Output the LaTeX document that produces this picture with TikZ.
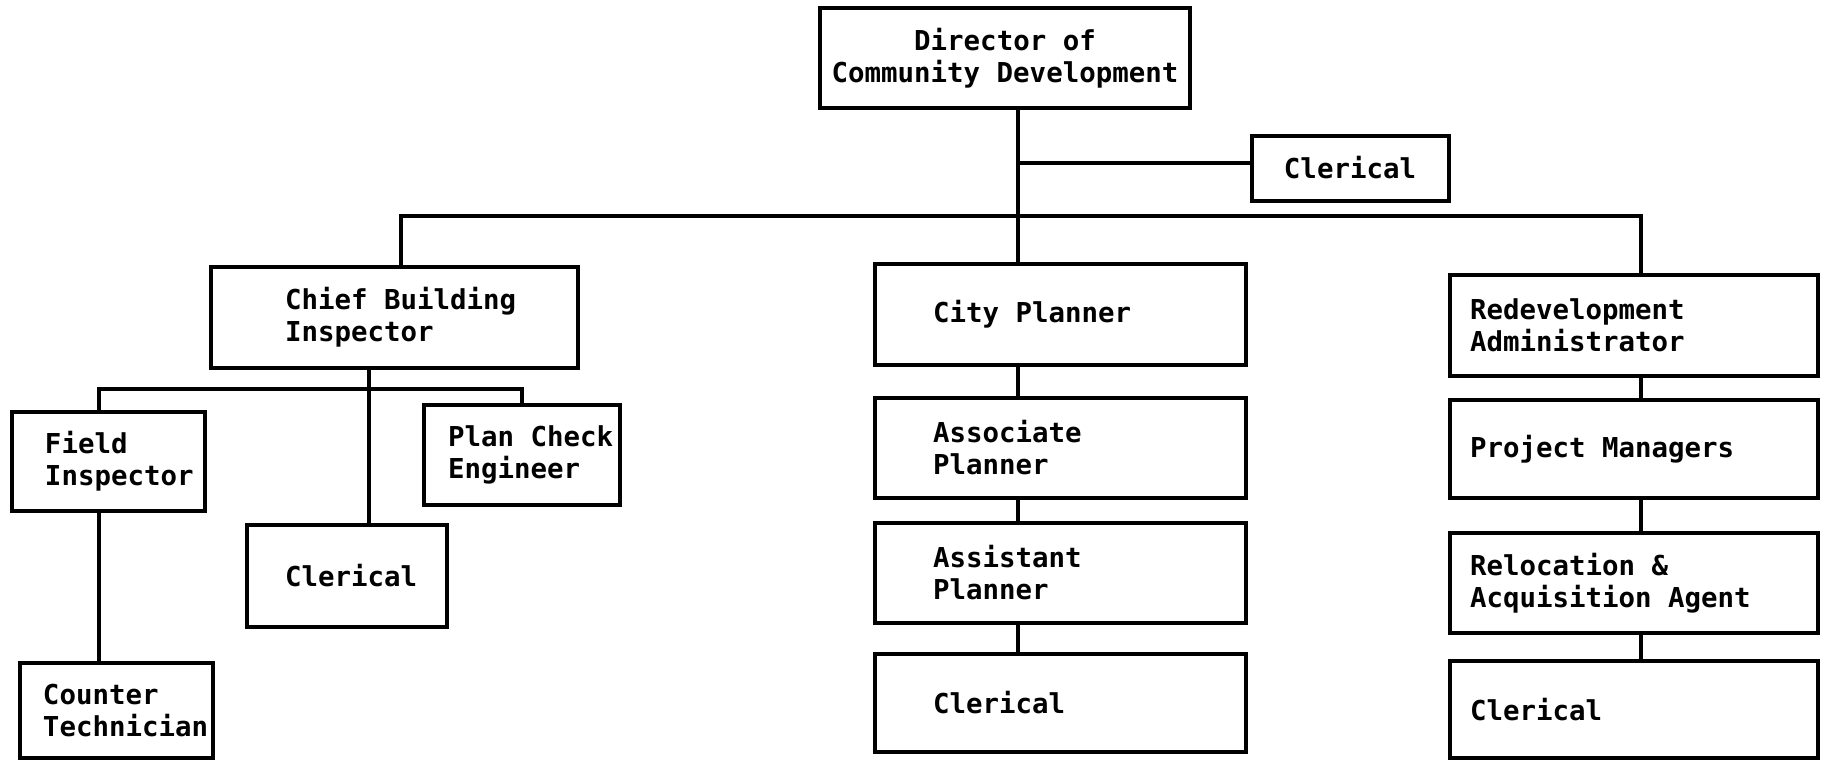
\documentclass[tikz,border=0pt]{standalone}
\usepackage{fontspec}
\newfontfamily\orgfont{DejaVu Sans Mono}
\usepackage{tikz}

\tikzset{
  unit/.style={draw, line width=0.8mm, inner sep=0pt,
    font=\orgfont\bfseries\fontsize{15.6pt}{18.2pt}\selectfont},
  post/.style n args={3}{unit, align=left, minimum width=#1, text width=#1,
    minimum height=#2, execute at begin node={\leftskip=#3\spaceskip=0pt}},
  link/.style={line width=0.7mm},
}

\begin{document}
\begin{tikzpicture}[x=0.2mm, y=-0.2mm]
  \useasboundingbox (0,0) rectangle (1825,761);

  % top
  \node[unit, align=center, minimum width=74mm, minimum height=20mm] (dir) at (1005,58)
    {Director of\\Community Development};
  \node[unit, minimum width=39.4mm, minimum height=13mm] (clr0) at (1350,168) {Clerical};

  % divisions
  \node[post={73.4mm}{20.2mm}{14.8mm}] (chief) at (394.5,317.5) {Chief Building\\Inspector};
  \node[post={74.2mm}{20.2mm}{11.6mm}] (city)  at (1060.5,314.5) {City Planner};
  \node[post={73.6mm}{20.2mm}{4mm}]    (redev) at (1634,325.5) {Redevelopment\\Administrator};

  % building
  \node[post={38.6mm}{19.8mm}{6.6mm}] (field)   at (108.5,461.5) {Field\\Inspector};
  \node[post={39.2mm}{20mm}{4.8mm}]   (plan)    at (522,455)     {Plan Check\\Engineer};
  \node[post={40mm}{20.4mm}{7.6mm}]   (clr1)    at (347,576)     {Clerical};
  \node[post={38.6mm}{19mm}{4.6mm}]   (counter) at (116.5,710.5) {Counter\\Technician};

  % planning
  \node[post={74.2mm}{20mm}{11.6mm}]   (assoc)  at (1060.5,448) {Associate\\Planner};
  \node[post={74.2mm}{20mm}{11.6mm}]   (assist) at (1060.5,573) {Assistant\\Planner};
  \node[post={74.2mm}{19.6mm}{11.6mm}] (clr2)   at (1060.5,703) {Clerical};

  % redevelopment
  \node[post={73.6mm}{19.6mm}{4mm}] (proj)  at (1634,449)   {Project Managers};
  \node[post={73.6mm}{20mm}{4mm}]   (reloc) at (1634,583)   {Relocation \&\\Acquisition Agent};
  \node[post={73.6mm}{19.4mm}{4mm}] (clr3)  at (1634,709.5) {Clerical};

  \coordinate (jclr)   at (1018,163);
  \coordinate (jbus)   at (1018,216);
  \coordinate (jred)   at (1641,216);
  \coordinate (jchief) at (369,389);
  \coordinate (jfield) at (99,389);

  \draw[link] (dir.south -| jbus) -- (city.north -| jbus);
  \draw[link] (jclr) -- (jclr -| clr0.west);
  \draw[link] ([xshift=1.3mm]chief.north) |- (jred) -- (redev.north -| jred);

  \draw[link] (chief.south -| jchief) -- (clr1.north -| jchief);
  \draw[link] (field.north -| jfield) |- (jchief) -| (plan.north);
  \draw[link] (field.south -| jfield) -- (counter.north -| jfield);

  \foreach \a/\b/\c in {city/assoc/jbus, assoc/assist/jbus, assist/clr2/jbus,
                        redev/proj/jred, proj/reloc/jred, reloc/clr3/jred}
    \draw[link] (\a.south -| \c) -- (\b.north -| \c);
\end{tikzpicture}
\end{document}
